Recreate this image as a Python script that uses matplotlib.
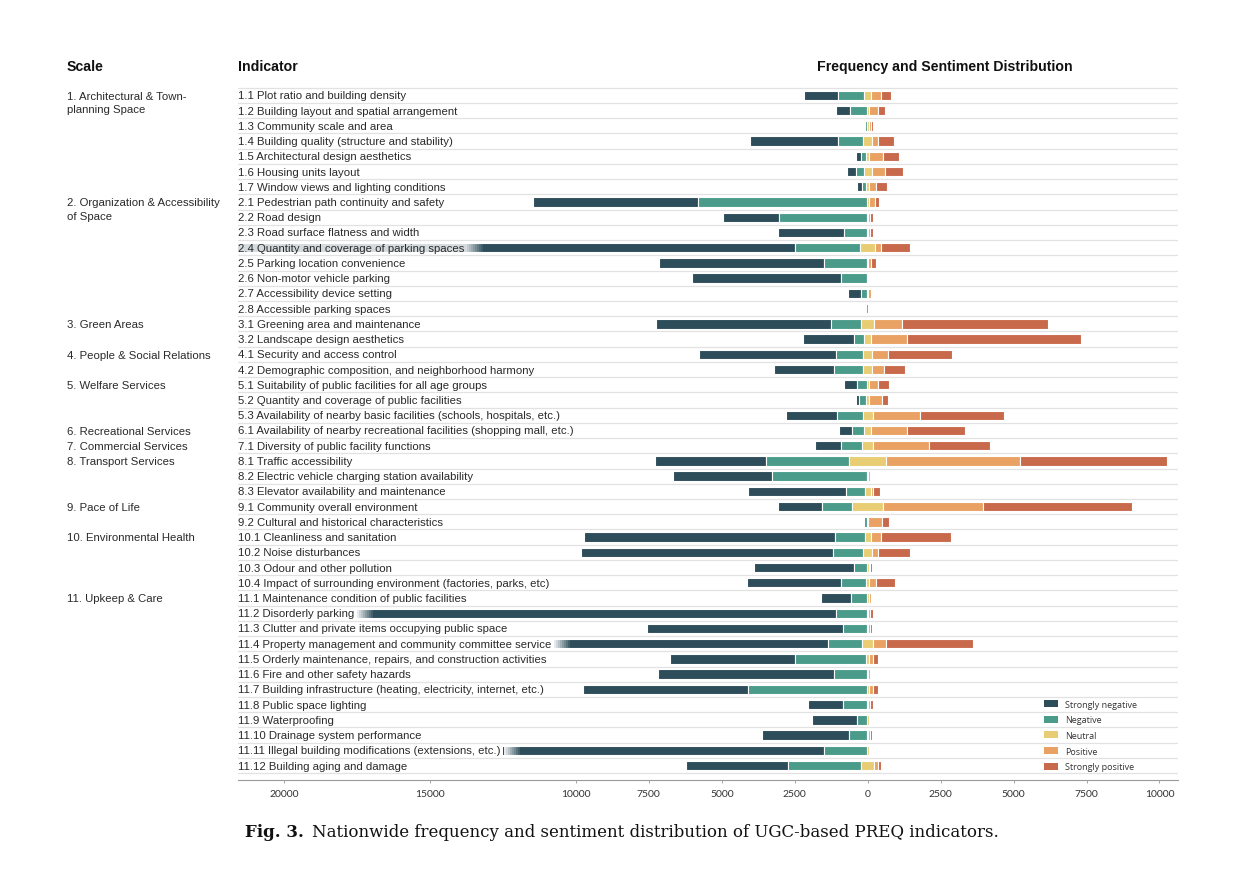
import numpy as np
import matplotlib
matplotlib.use("Agg")
import matplotlib.pyplot as plt
import matplotlib.transforms as mtransforms
from matplotlib.patches import Patch, Rectangle

plt.rcParams['font.family'] = ['Liberation Sans', 'DejaVu Sans']

# escalas (grupo -> indice de la primera fila)
escalas = ["1. Architectural & Town-\nplanning Space",
           "2. Organization & Accessibility\nof Space",
           "3. Green Areas", "4. People & Social Relations",
           "5. Welfare Services", "6. Recreational Services",
           "7. Commercial Services", "8. Transport Services",
           "9. Pace of Life", "10. Environmental Health",
           "11. Upkeep & Care"]
escala_fila = [0, 7, 15, 17, 19, 22, 23, 24, 27, 29, 33]

indicadores = [
    "1.1 Plot ratio and building density",
    "1.2 Building layout and spatial arrangement",
    "1.3 Community scale and area",
    "1.4 Building quality (structure and stability)",
    "1.5 Architectural design aesthetics",
    "1.6 Housing units layout",
    "1.7 Window views and lighting conditions",
    "2.1 Pedestrian path continuity and safety",
    "2.2 Road design",
    "2.3 Road surface flatness and width",
    "2.4 Quantity and coverage of parking spaces",
    "2.5 Parking location convenience",
    "2.6 Non-motor vehicle parking",
    "2.7 Accessibility device setting",
    "2.8 Accessible parking spaces",
    "3.1 Greening area and maintenance",
    "3.2 Landscape design aesthetics",
    "4.1 Security and access control",
    "4.2 Demographic composition, and neighborhood harmony",
    "5.1 Suitability of public facilities for all age groups",
    "5.2 Quantity and coverage of public facilities",
    "5.3 Availability of nearby basic facilities (schools, hospitals, etc.)",
    "6.1 Availability of nearby recreational facilities (shopping mall, etc.)",
    "7.1 Diversity of public facility functions",
    "8.1 Traffic accessibility",
    "8.2 Electric vehicle charging station availability",
    "8.3 Elevator availability and maintenance",
    "9.1 Community overall environment",
    "9.2 Cultural and historical characteristics",
    "10.1 Cleanliness and sanitation",
    "10.2 Noise disturbances",
    "10.3 Odour and other pollution",
    "10.4 Impact of surrounding environment (factories, parks, etc)",
    "11.1 Maintenance condition of public facilities",
    "11.2 Disorderly parking",
    "11.3 Clutter and private items occupying public space",
    "11.4 Property management and community committee service",
    "11.5 Orderly maintenance, repairs, and construction activities",
    "11.6 Fire and other safety hazards",
    "11.7 Building infrastructure (heating, electricity, internet, etc.)",
    "11.8 Public space lighting",
    "11.9 Waterproofing",
    "11.10 Drainage system performance",
    "11.11 Illegal building modifications (extensions, etc.)",
    "11.12 Building aging and damage",
]

# frecuencias por sentimiento
muy_neg = [1190, 475, 30, 3020, 170, 315, 170,
           5640, 1930, 2260, 20500, 5640, 5100, 440, 10,
           6005, 1740, 4680, 2065, 445, 110, 1755, 440, 910,
           3810, 3380, 3330, 1515, 0,
           8585, 8620, 3420, 3220,
           1035, 19000, 6700, 13500, 4270, 6010, 5650, 1175, 1540, 2980, 13000, 3505]
neg = [890, 580, 60, 870, 160, 245, 160,
       5790, 3015, 805, 2230, 1475, 905, 200, 60,
       1035, 360, 940, 995, 320, 245, 860, 435, 710,
       2850, 3255, 660, 1040, 100,
       1025, 1045, 445, 870,
       520, 1075, 825, 1185, 2465, 1140, 4070, 830, 340, 610, 1460, 2505]
neutro = [220, 70, 60, 300, 115, 280, 90,
          60, 40, 40, 515, 50, 50, 40, 10,
          430, 235, 310, 310, 70, 100, 350, 235, 380,
          1270, 40, 195, 1045, 50,
          210, 310, 70, 120,
          70, 40, 40, 360, 80, 40, 70, 50, 60, 50, 60, 440]
pos = [355, 315, 80, 205, 480, 465, 255,
       215, 75, 70, 200, 80, 20, 80, 0,
       960, 1225, 525, 395, 310, 445, 1625, 1245, 1900,
       4600, 50, 90, 3440, 470,
       365, 185, 60, 240,
       80, 50, 50, 460, 140, 60, 150, 70, 60, 60, 60, 125]
muy_pos = [350, 235, 70, 555, 540, 595, 350,
           140, 80, 110, 1005, 170, 0, 30, 0,
           5010, 5970, 2215, 745, 390, 195, 2870, 1970, 2090,
           5010, 30, 250, 5110, 230,
           2395, 1125, 70, 640,
           0, 100, 70, 2970, 190, 0, 170, 80, 0, 70, 0, 125]

# filas cuya barra pasa por detras de la etiqueta
truncadas = [10, 34, 36, 43]

nombres = ["Strongly negative", "Negative", "Neutral", "Positive", "Strongly positive"]
colores = ["#2c4d59", "#4b9b8b", "#e9cd74", "#e9a263", "#c8694c"]

ticks = [-20000, -15000, -10000, -7500, -5000, -2500, 0, 2500, 5000, 7500, 10000]

W, H = 1242, 887
fig = plt.figure(figsize=(W / 100, H / 100), dpi=100)
ax = fig.add_axes([238 / W, 1 - 781 / H, (1178 - 238) / W, (781 - 88) / H])

n = len(indicadores)
y = np.arange(n)
sn = np.array(muy_neg, float)
ng = np.array(neg, float)
nu = np.array(neutro, float)
ps = np.array(pos, float)
sp = np.array(muy_pos, float)

# neutral centrado en cero
izq_neg = -nu / 2 - ng
izq_sn = izq_neg - sn
segmentos = [(izq_sn, sn), (izq_neg, ng), (-nu / 2, nu), (nu / 2, ps), (nu / 2 + ps, sp)]
for (izq, ancho), c in zip(segmentos, colores):
    ax.barh(y, ancho, left=izq, height=0.62, color=c, edgecolor="white",
            linewidth=0.8, zorder=2)

ax.set_xlim(-21578, 10635)
ax.set_ylim(n - 0.05, -0.55)

for i in range(n + 1):
    ax.axhline(i - 0.5, color="#e2e2e2", lw=0.9, zorder=0)

ax.set_xticks(ticks)
ax.set_xticklabels([str(abs(t)) for t in ticks], fontsize=7.5, color="#333333",
                   family=["Lato", "DejaVu Sans"])
ax.set_yticks([])
ax.tick_params(axis="x", length=2.5, width=0.6, color="#999999", pad=4)
for s in ["top", "right", "left"]:
    ax.spines[s].set_visible(False)
ax.spines["bottom"].set_color("#9a9a9a")
ax.spines["bottom"].set_linewidth(0.8)

trans = mtransforms.blended_transform_factory(ax.transAxes, ax.transData)
textos = []
for i, lab in enumerate(indicadores):
    t = ax.text(0.0, i, lab, transform=trans, ha="left", va="center",
                fontsize=8.2, color="#2a2a2a", zorder=5)
    textos.append(t)

trans_f = mtransforms.blended_transform_factory(fig.transFigure, ax.transData)
for lab, fila in zip(escalas, escala_fila):
    fig.text(67 / W, fila - 0.3, lab, transform=trans_f, ha="left", va="top",
             fontsize=8.2, color="#2a2a2a", linespacing=1.45)

# tapar la barra detras de la etiqueta con un desvanecido
fig.canvas.draw()
inv = ax.transData.inverted()
x0 = ax.get_xlim()[0]
for i in truncadas:
    bb = textos[i].get_window_extent()
    xe = inv.transform((bb.x1 + 3, 0))[0]
    paso = inv.transform((bb.x1 + 5, 0))[0] - inv.transform((bb.x1 + 3, 0))[0]
    a0 = 0.8 if i == 10 else 1.0
    ax.add_patch(Rectangle((x0, i - 0.36), xe - x0, 0.72, facecolor="white",
                           edgecolor="none", alpha=a0, zorder=3))
    for k in range(8):
        ax.add_patch(Rectangle((xe + k * paso, i - 0.36), paso, 0.72,
                               facecolor="white", edgecolor="none",
                               alpha=a0 * (1 - (k + 1) / 9), zorder=3))

manejadores = [Patch(facecolor=c, edgecolor="none", label=nm) for c, nm in zip(colores, nombres)]
leg = ax.legend(handles=manejadores, loc="lower left",
                bbox_to_anchor=(1040 / W, 1 - 776 / H), bbox_transform=fig.transFigure,
                frameon=False, handlelength=1.6, handleheight=0.8,
                labelspacing=0.74, handletextpad=0.8, borderaxespad=0,
                prop={"family": ["Open Sans", "DejaVu Sans"], "size": 6.5})
for t in leg.get_texts():
    t.set_color("#333333")

fig.text(67 / W, 1 - 67 / H, "Scale", fontsize=10.2, fontweight="bold", va="center", color="#111111")
fig.text(238 / W, 1 - 67 / H, "Indicator", fontsize=10.2, fontweight="bold", va="center", color="#111111")
fig.text(945 / W, 1 - 67 / H, "Frequency and Sentiment Distribution", fontsize=10.2,
         fontweight="bold", va="center", ha="center", color="#111111")

fig.text(245 / W, 1 - 833 / H, "Fig. 3.", fontsize=12, fontweight="bold",
         family=["DejaVu Serif"], va="center", color="#111111")
fig.text(312 / W, 1 - 833 / H,
         "Nationwide frequency and sentiment distribution of UGC-based PREQ indicators.",
         fontsize=12, family=["DejaVu Serif"], va="center", color="#111111")

fig.savefig("out.png", dpi=100, facecolor="white")
